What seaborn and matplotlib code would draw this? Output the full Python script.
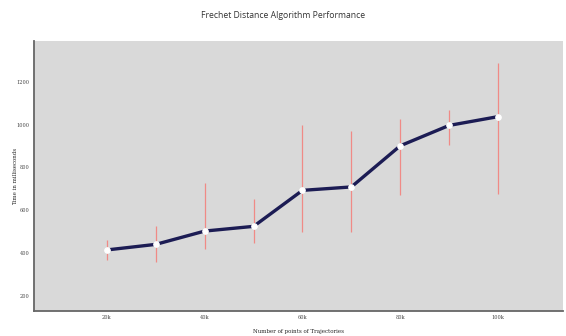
import matplotlib
matplotlib.use("Agg")
import matplotlib.pyplot as plt
import seaborn as sns
import pandas as pd

# Benchmark results: mean run time with min/max range per trajectory size
points = [20000, 30000, 40000, 50000, 60000, 70000, 80000, 90000, 100000]
mean_ms = [415, 441, 503, 525, 693, 709, 901, 996, 1037]
low_ms = [368, 360, 421, 449, 497, 500, 673, 904, 677]
high_ms = [461, 527, 727, 653, 997, 970, 1025, 1066, 1286]

x_ticks = [20000, 40000, 60000, 80000, 100000]
x_tick_labels = ["20k", "40k", "60k", "80k", "100k"]
y_ticks = [200, 400, 600, 800, 1000, 1200]

df = pd.DataFrame({"points": points, "mean": mean_ms, "low": low_ms, "high": high_ms})

sns.set_style("white", {"axes.facecolor": "#d9d9d9"})

fig = plt.figure(figsize=(5.66, 3.36), dpi=100)
ax = fig.add_axes([33.5 / 566, 1 - 311 / 336, (563 - 33.5) / 566, (311 - 41) / 336])

ax.vlines(df["points"], df["low"], df["high"], color="#f08a86", linewidth=0.9, zorder=2)
sns.lineplot(data=df, x="points", y="mean", ax=ax, color="#1c1c54", linewidth=2.4,
             marker="o", markersize=4.0, markerfacecolor="white",
             markeredgecolor="white", zorder=3)

ax.set_xlim(4970, 113300)
ax.set_ylim(130, 1390)
ax.set_xticks(x_ticks)
ax.set_xticklabels(x_tick_labels)
ax.set_yticks(y_ticks)

serif = ["DejaVu Serif"]
for lbl in ax.get_xticklabels() + ax.get_yticklabels():
    lbl.set_family(serif)
    lbl.set_fontsize(3.6)
    lbl.set_color("#444444")
ax.tick_params(axis="both", length=0, pad=3)

ax.set_xlabel("Number of points of Trajectories", family=serif, fontsize=4.0,
              color="#222222", labelpad=6)
ax.set_ylabel("Time in milliseconds", family=serif, fontsize=4.0,
              color="#222222", labelpad=7)
ax.yaxis.set_label_coords(-15.5 / 529.5, 0.5)
ax.xaxis.set_label_coords(0.5, -17.5 / 270)

for side in ["top", "right"]:
    ax.spines[side].set_visible(False)
for side in ["left", "bottom"]:
    ax.spines[side].set_color("#666666")
    ax.spines[side].set_linewidth(1.3)

fig.text(0.5, 1 - 15 / 336, "Frechet Distance Algorithm Performance",
         ha="center", va="center", fontsize=6.2, color="#333333", family="Open Sans")

fig.savefig("out.png", dpi=100)
